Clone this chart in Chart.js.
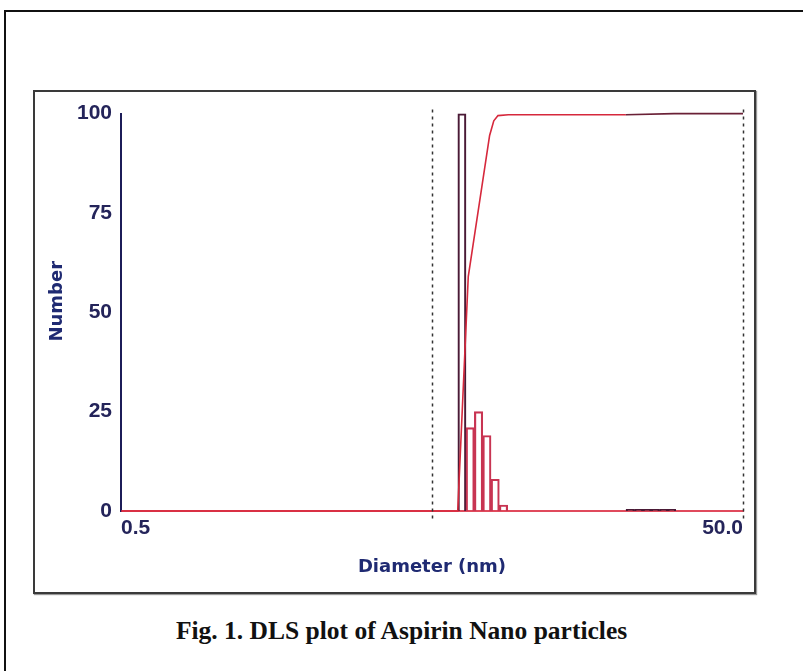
<!DOCTYPE html>
<html lang="en">
  <head>
    <meta charset="utf-8" />
    <title>DLS plot of Aspirin Nano particles</title>
    <style>
      * {
        margin: 0;
        padding: 0;
      }
      body {
        width: 803px;
        height: 671px;
        background: #fff;
        position: relative;
        overflow: hidden;
      }
      .frame {
        position: absolute;
        left: 4px;
        top: 10px;
        width: 900px;
        height: 800px;
        border-top: 2px solid #111;
        border-left: 2px solid #111;
      }
      .chartBox {
        position: absolute;
        left: 33px;
        top: 90px;
        width: 719px;
        height: 500px;
        border: 2px solid #3a3a3a;
        box-shadow: 1px 1px 1px #999;
        background: #fff;
      }
      .caption {
        position: absolute;
        left: 0;
        top: 616px;
        width: 803px;
        text-align: center;
        font-family: "Liberation Serif", "Times New Roman", serif;
        font-weight: bold;
        font-size: 25.5px;
        color: #111;
      }
    </style>
  </head>
  <body>
    <div class="frame"></div>
    <div class="chartBox">
      <canvas id="myChart" width="719" height="500"></canvas>
    </div>
    <div class="caption">Fig. 1. DLS plot of Aspirin Nano particles</div>

    <script src="https://cdn.jsdelivr.net/npm/chart.js/dist/chart.umd.min.js"></script>
    <script>
      // data
      const binDiameters = [6.24, 6.63, 7.06, 7.51, 7.98, 8.49];
      const binNumbers = [100, 21, 25, 19, 8, 1.5];
      const tailDiameters = [21.7, 23.1, 24.6, 26.1, 27.8, 29.5];
      const tailNumbers = [0.4, 0.4, 0.4, 0.4, 0.4, 0.4];
      const cumDiameters = [0.5, 6.05, 6.54, 7.66, 7.9, 8.15, 8.8, 21, 30, 50];
      const cumPercent = [0, 0, 59, 94.5, 98.2, 99.5, 99.7, 99.7, 100, 100];
      const yTicks = [0, 25, 50, 75, 100];
      const xTicks = [0.5, 50.0];
      const markerDiameters = [5.0, 50.0];

      const navy = "#24245a";
      const titleBlue = "#1f2a72";
      const tickFont = {
        family: "'Liberation Sans', Arial, sans-serif",
        size: 21,
        weight: "bold",
      };
      const titleFont = {
        family: "'DejaVu Sans', Verdana, sans-serif",
        size: 18,
        weight: "bold",
      };

      const toPoints = (xs, ys) => xs.map((x, i) => ({ x: x, y: ys[i] }));

      // dashed verticals at the range limits
      const markerLines = {
        id: "markerLines",
        afterDatasetsDraw(chart) {
          const { ctx, chartArea, scales } = chart;
          ctx.save();
          ctx.strokeStyle = "#333";
          ctx.lineWidth = 1.5;
          ctx.setLineDash([3, 4]);
          markerDiameters.forEach((d) => {
            const px = Math.round(scales.x.getPixelForValue(d)) + 0.5;
            ctx.beginPath();
            ctx.moveTo(px, chartArea.top - 4);
            ctx.lineTo(px, chartArea.bottom + 9);
            ctx.stroke();
          });
          ctx.restore();
        },
      };

      // y title sits a little above the middle of the axis in the original
      const yTitle = {
        id: "yTitle",
        afterDraw(chart) {
          const { ctx, chartArea } = chart;
          ctx.save();
          ctx.translate(22, (chartArea.top + chartArea.bottom) / 2 - 11);
          ctx.rotate(-Math.PI / 2);
          ctx.fillStyle = titleBlue;
          ctx.font = `bold ${titleFont.size}px ${titleFont.family}`;
          ctx.textAlign = "center";
          ctx.textBaseline = "middle";
          ctx.fillText("Number", 0, 0);
          ctx.restore();
        },
      };

      const config = {
        type: "bar",
        data: {
          datasets: [
            {
              type: "line",
              label: "Cumulative",
              data: toPoints(cumDiameters, cumPercent),
              borderColor: "#d6283c",
              borderWidth: 1.6,
              pointRadius: 0,
              tension: 0,
              clip: false,
              segment: {
                borderColor: (c) => (c.p0.parsed.x >= 21 ? "#6a2036" : undefined),
              },
            },
            {
              label: "Number",
              data: toPoints(binDiameters, binNumbers),
              backgroundColor: "rgba(255,255,255,0)",
              borderColor: ["#4a1a36", "#c83452", "#c83452", "#c83452", "#c83452", "#c83452"],
              borderWidth: 1.5,
              barThickness: "flex",
              barPercentage: 1,
              categoryPercentage: 1,
            },
            {
              label: "Tail",
              data: toPoints(tailDiameters, tailNumbers),
              backgroundColor: "rgba(255,255,255,0)",
              borderColor: "#4a1a36",
              borderWidth: 1.5,
              barThickness: "flex",
              barPercentage: 1,
              categoryPercentage: 1,
            },
          ],
        },
        options: {
          responsive: false,
          animation: false,
          layout: { padding: { left: 15, top: 21, right: 11, bottom: 10 } },
          plugins: {
            legend: { display: false },
            tooltip: { enabled: false },
          },
          scales: {
            x: {
              type: "logarithmic",
              min: 0.5,
              max: 50,
              offset: false,
              stacked: true,
              afterBuildTicks(scale) {
                scale.ticks = xTicks.map((v) => ({ value: v }));
              },
              afterFit(scale) {
                scale.height = 71;
              },
              grid: { display: false, drawTicks: false },
              border: { display: true, color: "#e04a5c", width: 2 },
              ticks: {
                align: "inner",
                padding: 5,
                color: navy,
                font: tickFont,
                callback: (v) => Number(v).toFixed(1),
              },
              title: {
                display: true,
                text: "Diameter (nm)",
                color: titleBlue,
                font: titleFont,
              },
            },
            y: {
              min: 0,
              max: 100,
              stacked: false,
              afterBuildTicks(scale) {
                scale.ticks = yTicks.map((v) => ({ value: v }));
              },
              afterFit(scale) {
                scale.width = 71;
              },
              grid: { display: false, drawTicks: false },
              border: { display: true, color: "#1c1c58", width: 2 },
              ticks: {
                padding: 9,
                color: navy,
                font: tickFont,
              },
              title: { display: false },
            },
          },
        },
        plugins: [markerLines, yTitle],
      };

      const myChart = new Chart(document.getElementById("myChart"), config);
    </script>
  </body>
</html>
